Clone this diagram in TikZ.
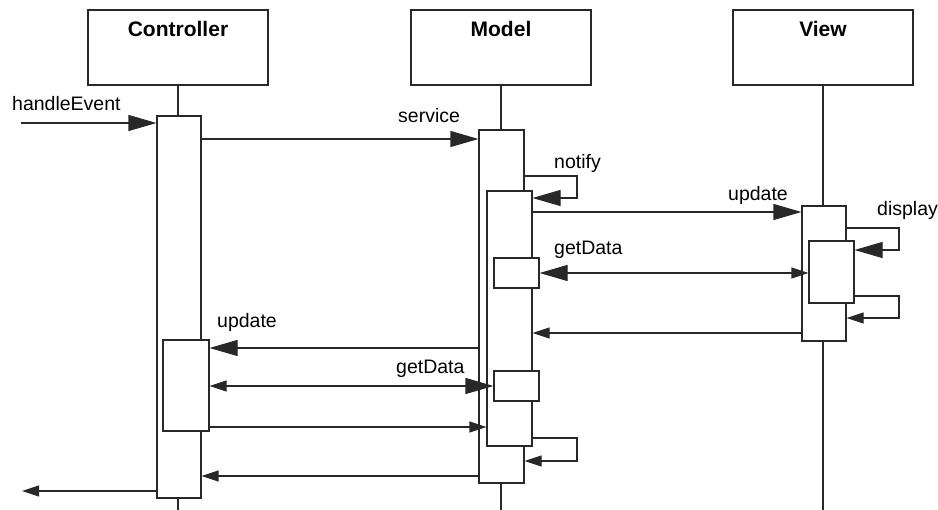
\documentclass[tikz,border=0pt]{standalone}
\usepackage{fontspec}
\setmainfont{Liberation Sans}
\usetikzlibrary{arrows.meta}
\definecolor{ln}{RGB}{40,40,40}
\begin{document}
\begin{tikzpicture}[x=1pt,y=-1pt,
  obj/.style={draw=ln, line width=1.1pt, fill=white, minimum width=180pt, minimum height=75pt, inner sep=0pt},
  act/.style={draw=ln, line width=1.1pt, fill=white, inner sep=0pt},
  ttl/.style={font=\bfseries\fontsize{21}{25}\selectfont, anchor=base, inner sep=0pt},
  lbl/.style={font=\fontsize{19.5}{23}\selectfont, anchor=base west, inner sep=0pt},
  bighead/.style={Triangle[length=28pt,width=16pt]},
  call/.style={draw=ln, line width=1.1pt, -{Triangle[length=28pt,width=16pt]}},
  ret/.style={draw=ln, line width=1.1pt, -{Triangle[length=17pt,width=11pt]}},
  both/.style={draw=ln, line width=1.1pt, {Triangle[length=17pt,width=11pt]}-{Triangle[length=28pt,width=16pt]}},
  life/.style={draw=ln, line width=1.1pt}]
\useasboundingbox[fill=white] (0,0) rectangle (938,510);
% headers
\node[obj] (hC) at (178,47.5) {};
\node[obj] (hM) at (501,47.5) {};
\node[obj] (hV) at (823,47.5) {};
\node[ttl] (tC) at (178,37) {Controller};
\node[ttl] (tM) at (501,37) {Model};
\node[ttl] (tV) at (823,37) {View};
% lifelines
\coordinate (bC) at (178,510);
\coordinate (bM) at (501,510);
\coordinate (bV) at (823,510);
\draw[life] (hC.south) -- (bC);
\draw[life] (hM.south) -- (bM);
\draw[life] (hV.south) -- (bV);
% activations
\node[act, minimum width=44pt, minimum height=382pt] (cA) at (179,307) {};
\node[act, minimum width=46pt, minimum height=91pt] (cB) at (186,385.5) {};
\node[act, minimum width=45pt, minimum height=353pt] (mA) at (501.5,306.5) {};
\node[act, minimum width=45pt, minimum height=255pt] (mB) at (509.5,318.5) {};
\node[act, minimum width=45pt, minimum height=30pt] (mC) at (516.5,273) {};
\node[act, minimum width=45pt, minimum height=30pt] (mD) at (516.5,386) {};
\node[act, minimum width=44pt, minimum height=135pt] (vA) at (824,273.5) {};
\node[act, minimum width=45pt, minimum height=62pt] (vB) at (831.5,272) {};
% messages
\coordinate (inC) at (21,123);
\draw[call] (inC) -- (cA.west |- inC);
\draw[call] (cA.east |- 0,139) -- (mA.west |- 0,139);
\draw[call] (mA.east |- 0,176) -- (577,176) -- (577,198) -- (mB.east |- 0,198);
\draw[call] (mB.east |- 0,212) -- (vA.west |- 0,212);
\draw[call] (vA.east |- 0,228) -- (899,228) -- (899,250) -- (vB.east |- 0,250);
\draw[both] (vB.west |- 0,273) -- (mC.east |- 0,273);
\draw[ret] (vB.east |- 0,296) -- (899,296) -- (899,318) -- (vA.east |- 0,318);
\draw[ret] (vA.west |- 0,333) -- (mB.east |- 0,333);
\draw[call] (mA.west |- 0,348) -- (cB.east |- 0,348);
\draw[both] (cB.east |- 0,386) -- (mD.west |- 0,386);
\draw[ret] (cB.east |- 0,427) -- (mB.west |- 0,427);
\draw[ret] (mB.east |- 0,438) -- (577,438) -- (577,461) -- (mA.east |- 0,461);
\draw[ret] (mA.west |- 0,476) -- (cA.east |- 0,476);
\coordinate (outC) at (22,491);
\draw[ret] (cA.west |- outC) -- (outC);
% labels
\node[lbl] (l1) at (12,111) {handleEvent};
\node[lbl] (l2) at (398,123) {service};
\node[lbl] (l3) at (554,169) {notify};
\node[lbl] (l4) at (728,201) {update};
\node[lbl] (l5) at (877,216) {display};
\node[lbl] (l6) at (554,255) {getData};
\node[lbl] (l7) at (217,328) {update};
\node[lbl] (l8) at (396,374) {getData};
\end{tikzpicture}
\end{document}
